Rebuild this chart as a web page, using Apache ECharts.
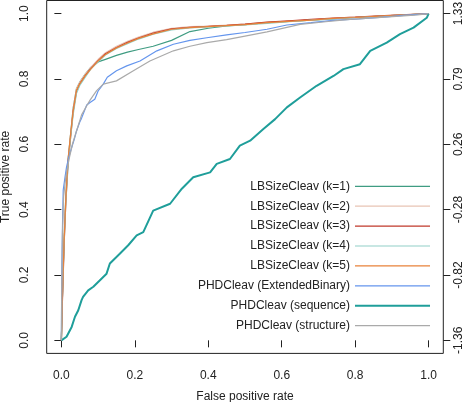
<!DOCTYPE html>
<html>
<head>
<meta charset="utf-8">
<script src="https://cdn.jsdelivr.net/npm/echarts@6/dist/echarts.min.js"></script>
<style>html,body{margin:0;padding:0;background:#fff}#c{width:472px;height:402px}</style>
</head>
<body>
<div id="c"></div>
<script>
// ---- data ----
const seriesNames = ['LBSizeCleav (k=1)','LBSizeCleav (k=2)','LBSizeCleav (k=3)','LBSizeCleav (k=4)','LBSizeCleav (k=5)','PHDCleav (ExtendedBinary)','PHDCleav (sequence)','PHDCleav (structure)'];
const xTicks = [0, 0.2, 0.4, 0.6, 0.8, 1.0];
const yTicks = [0, 0.2, 0.4, 0.6, 0.8, 1.0];
const rightLabels = ['-1.36','-0.82','-0.28','0.26','0.79','1.33'];

const lbFpr = [0, 0.002, 0.005, 0.008, 0.012, 0.018, 0.025, 0.032, 0.041, 0.05, 0.065, 0.08, 0.1, 0.12, 0.15, 0.18, 0.21, 0.25, 0.3, 0.35, 0.4, 0.45, 0.5, 0.56, 0.62, 0.68, 0.74, 0.8, 0.88, 0.94, 1.0];
const k1Tpr = [0, 0.1, 0.22, 0.33, 0.44, 0.55, 0.63, 0.71, 0.77, 0.79, 0.815, 0.835, 0.852, 0.86, 0.872, 0.882, 0.89, 0.9, 0.918, 0.945, 0.955, 0.962, 0.966, 0.972, 0.976, 0.98, 0.984, 0.988, 0.993, 0.996, 1.0];
const k2Tpr = [0, 0.11, 0.23, 0.33, 0.44, 0.55, 0.63, 0.71, 0.77, 0.79, 0.815, 0.835, 0.86, 0.88, 0.9, 0.915, 0.928, 0.943, 0.955, 0.96, 0.962, 0.965, 0.968, 0.973, 0.977, 0.981, 0.985, 0.989, 0.993, 0.996, 1.0];
const k3Tpr = [0, 0.09, 0.2, 0.31, 0.42, 0.54, 0.62, 0.70, 0.76, 0.785, 0.81, 0.832, 0.856, 0.877, 0.896, 0.912, 0.925, 0.94, 0.953, 0.958, 0.961, 0.964, 0.968, 0.974, 0.978, 0.982, 0.986, 0.989, 0.994, 0.997, 1.0];
const k4Tpr = [0, 0.1, 0.21, 0.31, 0.42, 0.53, 0.62, 0.69, 0.755, 0.78, 0.805, 0.83, 0.852, 0.873, 0.893, 0.908, 0.922, 0.937, 0.95, 0.956, 0.959, 0.962, 0.965, 0.97, 0.975, 0.98, 0.984, 0.988, 0.992, 0.996, 1.0];
const k5Tpr = [0, 0.1, 0.22, 0.32, 0.43, 0.55, 0.63, 0.70, 0.765, 0.785, 0.81, 0.83, 0.855, 0.875, 0.895, 0.91, 0.924, 0.938, 0.952, 0.957, 0.96, 0.963, 0.966, 0.972, 0.976, 0.98, 0.985, 0.988, 0.993, 0.996, 1.0];

const extFpr = [0, 0.001, 0.003, 0.005, 0.01, 0.014, 0.02, 0.028, 0.035, 0.041, 0.05, 0.055, 0.069, 0.078, 0.091, 0.1, 0.114, 0.125, 0.15, 0.178, 0.214, 0.26, 0.305, 0.35, 0.396, 0.45, 0.5, 0.56, 0.614, 0.68, 0.74, 0.81, 0.876, 0.94, 1.0];
const extTpr = [0, 0.2, 0.35, 0.46, 0.5, 0.53, 0.56, 0.59, 0.615, 0.64, 0.668, 0.68, 0.72, 0.728, 0.738, 0.763, 0.784, 0.805, 0.825, 0.84, 0.855, 0.886, 0.906, 0.918, 0.926, 0.935, 0.942, 0.952, 0.965, 0.972, 0.979, 0.984, 0.989, 0.995, 1.0];

const seqFpr = [0, 0.014, 0.028, 0.037, 0.046, 0.055, 0.059, 0.073, 0.087, 0.105, 0.123, 0.132, 0.159, 0.182, 0.205, 0.223, 0.25, 0.296, 0.328, 0.359, 0.405, 0.423, 0.459, 0.486, 0.514, 0.55, 0.582, 0.614, 0.65, 0.695, 0.741, 0.768, 0.813, 0.841, 0.886, 0.922, 0.959, 0.995, 1.0];
const seqTpr = [0, 0.011, 0.041, 0.072, 0.092, 0.123, 0.133, 0.153, 0.164, 0.184, 0.204, 0.235, 0.265, 0.291, 0.321, 0.331, 0.397, 0.418, 0.464, 0.499, 0.514, 0.540, 0.555, 0.596, 0.611, 0.647, 0.677, 0.713, 0.743, 0.779, 0.809, 0.830, 0.845, 0.886, 0.911, 0.937, 0.957, 0.987, 1.0];

const strFpr = [0, 0.001, 0.003, 0.006, 0.012, 0.02, 0.03, 0.041, 0.055, 0.069, 0.078, 0.096, 0.114, 0.15, 0.196, 0.241, 0.305, 0.35, 0.396, 0.45, 0.5, 0.56, 0.65, 0.72, 0.786, 0.85, 0.922, 0.97, 1.0];
const strTpr = [0, 0.18, 0.33, 0.44, 0.5, 0.55, 0.6, 0.64, 0.69, 0.718, 0.735, 0.764, 0.784, 0.794, 0.825, 0.855, 0.886, 0.9, 0.911, 0.92, 0.931, 0.944, 0.967, 0.975, 0.982, 0.987, 0.992, 0.996, 1.0];

// ---- styling ----
const colors = ['#3f9c82', '#e8c4b4', '#c0392b', '#92cfc8', '#e8823a', '#6495ED', '#1f9e9a', '#aaaaaa'];
const widths = [1.2, 1.2, 1.2, 1.2, 1.2, 1.2, 2, 1.2];
const curves = [
  [lbFpr, k1Tpr], [lbFpr, k2Tpr], [lbFpr, k3Tpr], [lbFpr, k4Tpr], [lbFpr, k5Tpr],
  [extFpr, extTpr], [seqFpr, seqTpr], [strFpr, strTpr]
];
const zip = (xs, ys) => xs.map((x, i) => [x, ys[i]]);
const font = 'Liberation Sans, Arial, sans-serif';
const txt = '#222';

const chart = echarts.init(document.getElementById('c'), null, {renderer: 'canvas'});
chart.setOption({
  animation: false,
  backgroundColor: '#fff',
  grid: {left: 46.7, right: 28.7, top: 0.5, bottom: 48.6, containLabel: false, outerBoundsMode: 'none',
    show: true, borderColor: '#222', borderWidth: 1, backgroundColor: 'transparent'},
  legend: {
    data: seriesNames.map((n, i) => ({
      name: n,
      icon: 'path://M0,0H75V' + widths[i] + 'H0Z',
      itemStyle: {color: colors[i], borderWidth: 0}
    })),
    orient: 'vertical', align: 'right', right: 42, top: 180.3,
    padding: 0, itemWidth: 75, itemHeight: 14, itemGap: 7.9, symbolKeepAspect: true,
    textStyle: {fontFamily: font, fontSize: 12, color: txt}
  },
  xAxis: {
    type: 'value', min: -0.04, max: 1.04,
    name: 'False positive rate', nameLocation: 'middle', nameGap: 37, nameMoveOverlap: false,
    nameTextStyle: {fontFamily: font, fontSize: 12, color: txt},
    axisLine: {show: false}, splitLine: {show: false},
    axisTick: {show: true, length: 7, customValues: xTicks, lineStyle: {color: '#222'}},
    axisLabel: {customValues: xTicks, margin: 16, fontFamily: font, fontSize: 12, color: txt, formatter: v => v.toFixed(1)}
  },
  yAxis: [{
    type: 'value', min: -0.04, max: 1.04, position: 'left',
    name: 'True positive rate', nameLocation: 'middle', nameGap: 35, nameRotate: 90, nameMoveOverlap: false,
    nameTextStyle: {fontFamily: font, fontSize: 12, color: txt},
    axisLine: {show: false}, splitLine: {show: false},
    axisTick: {show: true, length: 7, customValues: yTicks, lineStyle: {color: '#222'}},
    axisLabel: {customValues: yTicks, rotate: 90, margin: 16, fontFamily: font, fontSize: 12, color: txt, formatter: v => v.toFixed(1)}
  }, {
    type: 'value', min: -0.04, max: 1.04, position: 'right',
    axisLine: {show: false}, splitLine: {show: false},
    axisTick: {show: true, length: 7, customValues: yTicks, lineStyle: {color: '#222'}},
    axisLabel: {customValues: yTicks, rotate: 90, margin: 9, fontFamily: font, fontSize: 12, color: txt,
      formatter: v => rightLabels[Math.round(v / 0.2)]}
  }],
  series: curves.map((c, i) => ({
    name: seriesNames[i], type: 'line', xAxisIndex: 0, yAxisIndex: 0,
    data: zip(c[0], c[1]), symbol: 'none', smooth: false,
    lineStyle: {color: colors[i], width: widths[i]}, itemStyle: {color: colors[i]},
    emphasis: {disabled: true}, z: 2 + i
  }))
});
</script>
</body>
</html>
